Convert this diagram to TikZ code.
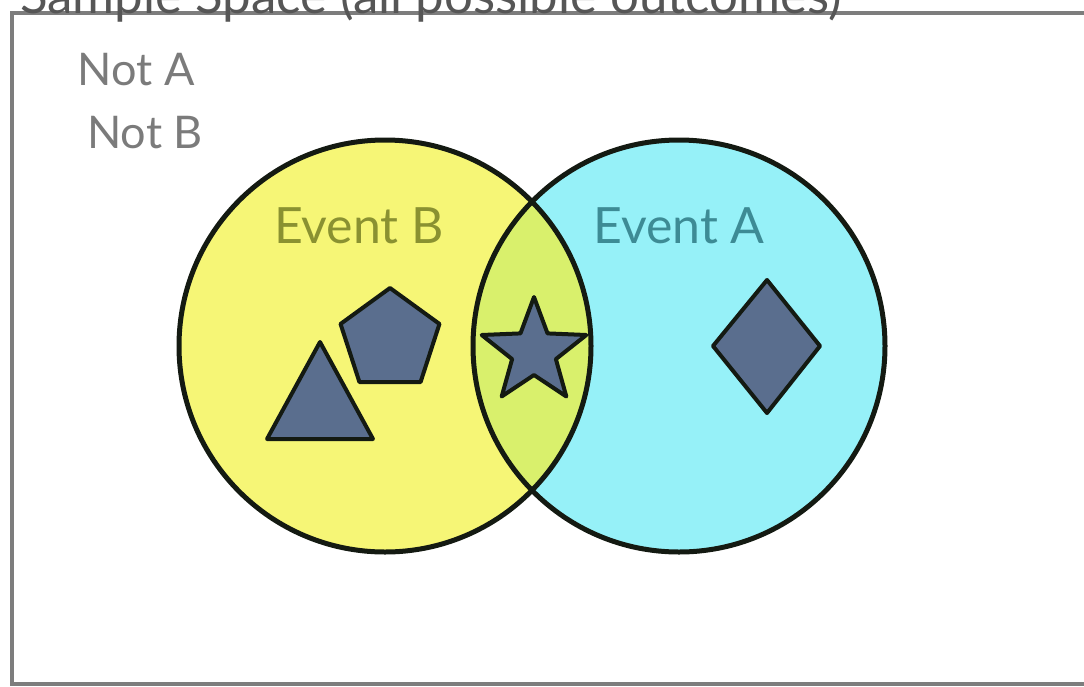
\documentclass[tikz,border=0pt]{standalone}
\usepackage{fontspec}
\setmainfont{Lato}
\definecolor{Frame}{HTML}{7D7D7D}
\definecolor{Lemon}{HTML}{F6F676}
\definecolor{Aqua}{HTML}{96F1F8}
\definecolor{Lime}{HTML}{D9F06C}
\definecolor{Slate}{HTML}{5A6E8E}
\definecolor{Ink}{HTML}{141A12}
\definecolor{Olive}{HTML}{8A9131}
\definecolor{Teal}{HTML}{3D8B95}
\definecolor{Smoke}{HTML}{7B7B7B}
\begin{document}
\begin{tikzpicture}[x=1pt,y=-1pt,
  words/.style={inner sep=0pt,anchor=base},
  ring/.style={draw=Ink,line width=5pt},
  item/.style={draw=Ink,line width=4pt,fill=Slate,line join=round}]
\useasboundingbox (0,0) rectangle (1084,686);
\draw[Frame,line width=3.5pt] (1090,13) -- (12,13) -- (12,684) -- (1090,684);
\node[words,anchor=base west,text=Smoke!70!black,font=\fontsize{51}{56}\selectfont](space) at (20,13){Sample Space (all possible outcomes)};
\node[words,text=Smoke,font=\fontsize{45}{50}\selectfont](notA) at (136,85){Not A};
\node[words,text=Smoke,font=\fontsize{45}{50}\selectfont](notB) at (145,148){Not B};
% the two events
\coordinate (B) at (385,346);
\coordinate (A) at (679,346);
\fill[Lemon] (B) circle[radius=206];
\fill[Aqua] (A) circle[radius=206];
\begin{scope}
  \clip (B) circle[radius=206];
  \fill[Lime] (A) circle[radius=206];
\end{scope}
\draw[ring] (B) circle[radius=206];
\draw[ring] (A) circle[radius=206];
\node[words,text=Olive,font=\fontsize{50}{56}\selectfont](eventB) at (359,243){Event B};
\node[words,text=Teal,font=\fontsize{50}{56}\selectfont](eventA) at (679,243){Event A};
% outcomes
\filldraw[item] (320,342) -- (373,439) -- (267,439) -- cycle;
\filldraw[item] (390,340) +(-90:52) -- +(-18:52) -- +(54:52) -- +(126:52) -- +(198:52) -- cycle;
\filldraw[item] (534,352) +(-90:55) \foreach \a in {-54,18,90,162,234}{ -- +(\a:23) -- +(\a+36:55)} -- cycle;
\filldraw[item] (767,280) -- (820,346) -- (767,413) -- (713,346) -- cycle;
\end{tikzpicture}
\end{document}
